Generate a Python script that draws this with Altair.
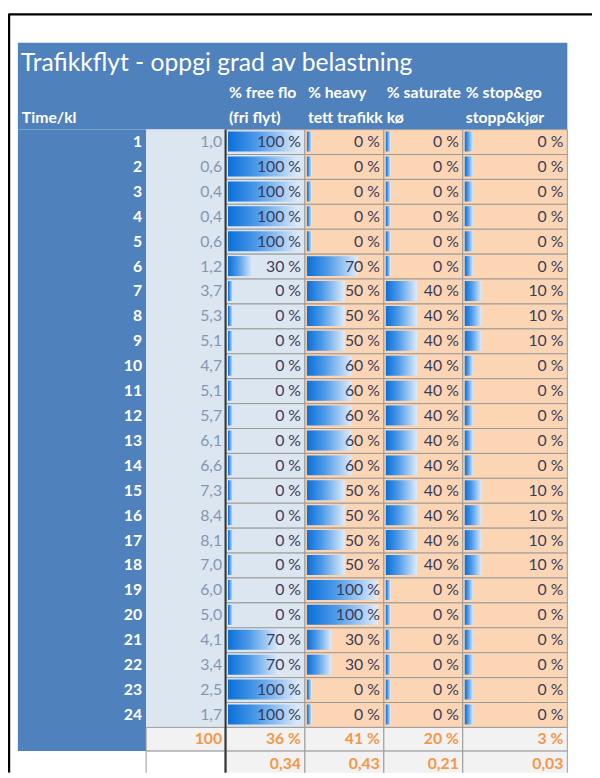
import altair as alt
import pandas as pd

# ---------------- data ----------------
hours = list(range(1, 25))
distance = [1.0, 0.6, 0.4, 0.4, 0.6, 1.2, 3.7, 5.3, 5.1, 4.7, 5.1, 5.7,
            6.1, 6.6, 7.3, 8.4, 8.1, 7.0, 6.0, 5.0, 4.1, 3.4, 2.5, 1.7]
free_flow = [100, 100, 100, 100, 100, 30, 0, 0, 0, 0, 0, 0,
             0, 0, 0, 0, 0, 0, 0, 0, 70, 70, 100, 100]
heavy = [0, 0, 0, 0, 0, 70, 50, 50, 50, 60, 60, 60,
         60, 60, 50, 50, 50, 50, 100, 100, 30, 30, 0, 0]
saturated = [0, 0, 0, 0, 0, 0, 40, 40, 40, 40, 40, 40,
             40, 40, 40, 40, 40, 40, 0, 0, 0, 0, 0, 0]
stopgo = [0, 0, 0, 0, 0, 0, 10, 10, 10, 0, 0, 0,
          0, 0, 10, 10, 10, 10, 0, 0, 0, 0, 0, 0]
total_distance = "100"
totals_pct = ["36 %", "41 %", "20 %", "3 %"]
totals_frac = ["0,34", "0,43", "0,21", "0,03"]

title_text = "Trafikkflyt - oppgi grad av belastning"
header1 = ["% free flow", "% heavy", "% saturated", "% stop&go"]
header2 = ["(fri flyt)", "tett trafikk", "kø", "stopp&kjør"]
time_label = "Time/kl"

# ---------------- layout (reference pixel units) ----------------
FONT = "Lato"
BLUE = "#4f81bd"
LIGHT = "#dce6f1"
PEACH = "#fcd5b4"
GREY = "#f2f2f2"
BORDER = "#9a9a9a"
ORANGE = "#f79646"

W, H = 592, 770          # chart size; page margin is 8px
left, right = 18, 575
time_l, time_r = 18, 148
dist_l, dist_r = 148, 228
cols = [(229, 309), (309, 389), (389, 469), (469, 575)]
col_fill = [LIGHT, PEACH, PEACH, PEACH]
min_frac = [0.06, 0.06, 0.06, 0.08]
head_top, head_bot = 38, 126
row_top0, row_h = 126, 25.25
tot_top, tot_bot = 732, 756
last_top, last_bot = 756, 782

xs = alt.Scale(domain=[8, 8 + W], range=[0, W], nice=False, zero=False)
ys = alt.Scale(domain=[8, 8 + H], range=[0, H], nice=False, zero=False)


def row_top(i):
    return row_top0 + i * row_h


# ---------------- background rectangles ----------------
rects = []
rects.append(dict(x=left, x2=right, y=head_top, y2=head_bot, fill=BLUE, stroke="transparent"))
rects.append(dict(x=time_l, x2=time_r, y=head_bot, y2=tot_bot, fill=BLUE, stroke="transparent"))
rects.append(dict(x=dist_l, x2=dist_r, y=head_bot, y2=tot_top, fill=LIGHT, stroke="transparent"))
for i in range(24):
    for (cl, cr), f in zip(cols, col_fill):
        rects.append(dict(x=cl, x2=cr, y=row_top(i), y2=row_top(i + 1), fill=f, stroke=BORDER))
rects.append(dict(x=dist_l, x2=dist_r, y=tot_top, y2=tot_bot, fill=GREY, stroke=BORDER))
for cl, cr in cols:
    rects.append(dict(x=cl, x2=cr, y=tot_top, y2=tot_bot, fill=GREY, stroke=BORDER))
    rects.append(dict(x=cl, x2=cr, y=last_top, y2=last_bot, fill=GREY, stroke=BORDER))
rects.append(dict(x=dist_l, x2=dist_r, y=last_top, y2=last_bot, fill="white", stroke=BORDER))
rect_df = pd.DataFrame(rects)

bg = alt.Chart(rect_df).mark_rect(strokeWidth=1).encode(
    x=alt.X("x:Q", scale=xs, axis=None),
    x2="x2:Q",
    y=alt.Y("y:Q", scale=ys, axis=None),
    y2="y2:Q",
    fill=alt.Fill("fill:N", scale=None),
    stroke=alt.Stroke("stroke:N", scale=None),
)

# ---------------- data bars ----------------
bars = []
series = [free_flow, heavy, saturated, stopgo]
for vals, (cl, cr), mf in zip(series, cols, min_frac):
    w = cr - cl
    minlen = w * mf
    maxlen = w * 0.90
    for i, v in enumerate(vals):
        bars.append(dict(x=cl + 2, x2=cl + 2 + minlen + (maxlen - minlen) * v / 100.0,
                         y=row_top(i) + 2, y2=row_top(i + 1) - 3))
bar_df = pd.DataFrame(bars)
grad = alt.Gradient(
    gradient="linear",
    stops=[alt.GradientStop(color="#0a6fd8", offset=0),
           alt.GradientStop(color="#4d9ae8", offset=0.4),
           alt.GradientStop(color="#dfecfa", offset=1)],
    x1=0, x2=1, y1=0, y2=0,
)
databars = alt.Chart(bar_df).mark_rect(fill=grad).encode(
    x=alt.X("x:Q", scale=xs), x2="x2:Q",
    y=alt.Y("y:Q", scale=ys), y2="y2:Q",
)

# ---------------- cell texts ----------------
texts = []
for i in range(24):
    yc = row_top(i) + row_h / 2
    texts.append(dict(x=time_r - 4, y=yc, t=str(hours[i]), c="white", w="bold"))
    texts.append(dict(x=dist_r - 3, y=yc, t=f"{distance[i]:.1f}".replace(".", ","), c="#8496b0", w="normal"))
    for vals, (cl, cr) in zip(series, cols):
        texts.append(dict(x=cr - 4, y=yc, t=f"{vals[i]} %", c="#3b3b58", w="normal"))
yc = (tot_top + tot_bot) / 2
texts.append(dict(x=dist_r - 3, y=yc, t=total_distance, c=ORANGE, w="bold"))
for t, (cl, cr) in zip(totals_pct, cols):
    texts.append(dict(x=cr - 4, y=yc, t=t, c=ORANGE, w="bold"))
yc = 769
for t, (cl, cr) in zip(totals_frac, cols):
    texts.append(dict(x=cr - 4, y=yc, t=t, c=ORANGE, w="bold"))
text_df = pd.DataFrame(texts)


def cell_text_layer(weight):
    return alt.Chart(text_df).transform_filter(
        alt.datum.w == weight
    ).mark_text(
        align="right", baseline="middle", font=FONT, fontSize=16, fontWeight=weight
    ).encode(
        x=alt.X("x:Q", scale=xs), y=alt.Y("y:Q", scale=ys),
        text="t:N",
        color=alt.Color("c:N", scale=None),
    )


# ---------------- headers ----------------
head_clip = []
head_free = [dict(x=22, y=114, t=time_label)]
for k, ((cl, cr), h1, h2) in enumerate(zip(cols, header1, header2)):
    target = head_clip if k < 3 else head_free
    target.append(dict(x=cl + 3, y=89, t=h1))
    target.append(dict(x=cl + 3, y=114, t=h2))


def header_layer(rows, limit):
    kw = dict(limit=limit, ellipsis="\u200b") if limit else {}
    return alt.Chart(pd.DataFrame(rows)).mark_text(
        align="left", baseline="middle", font=FONT, fontSize=16, fontWeight="bold",
        color="white", **kw
    ).encode(x=alt.X("x:Q", scale=xs), y=alt.Y("y:Q", scale=ys), text="t:N")


title_df = pd.DataFrame([dict(x=21, y=67, t=title_text)])
title = alt.Chart(title_df).mark_text(
    align="left", baseline="alphabetic", font=FONT, fontSize=25, color="white"
).encode(x=alt.X("x:Q", scale=xs), y=alt.Y("y:Q", scale=ys), text="t:N")

# ---------------- lines ----------------
lines_df = pd.DataFrame([
    dict(x=8.5, x2=600, y=9, y2=9, w=2.5, c="black"),
    dict(x=9, x2=9, y=8.5, y2=778, w=2.5, c="black"),
    dict(x=dist_r + 0.5, x2=dist_r + 0.5, y=head_bot, y2=778, w=2, c="#333333"),
])
lines = alt.Chart(lines_df).mark_rule().encode(
    x=alt.X("x:Q", scale=xs), x2="x2:Q",
    y=alt.Y("y:Q", scale=ys), y2="y2:Q",
    strokeWidth=alt.StrokeWidth("w:Q", scale=None),
    color=alt.Color("c:N", scale=None),
)

chart = alt.layer(
    bg, databars, cell_text_layer("normal"), cell_text_layer("bold"),
    header_layer(head_clip, 77), header_layer(head_free, None), title, lines
).properties(
    width=W, height=H, padding=0, autosize=alt.AutoSizeParams(type="none"),
    background="white",
).configure_view(stroke=None, clip=True)

chart.save("out.html", embed_options={"renderer": "svg", "actions": False})
